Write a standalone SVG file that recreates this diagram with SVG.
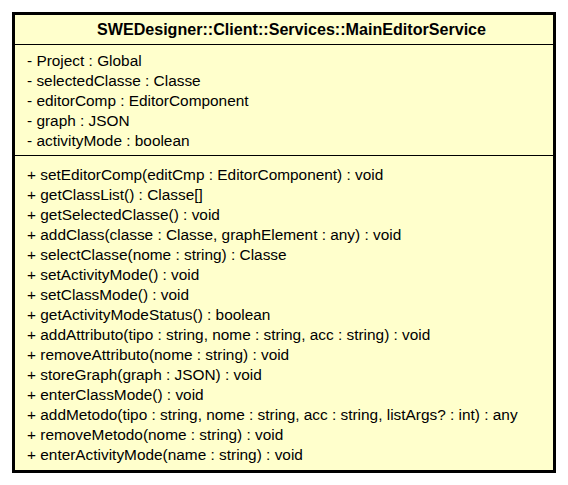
<svg xmlns="http://www.w3.org/2000/svg" width="568" height="485" viewBox="0 0 568 485">
<style>
.box{fill:#ffffcc;stroke:#000;stroke-width:3}
.sep{stroke:#000;stroke-width:1}
.t{font-family:"Liberation Sans",Arial,sans-serif;font-size:15.4px;fill:#000}
.title{font-family:"Liberation Sans",Arial,sans-serif;font-size:16.1px;font-weight:bold;fill:#000}
</style>
<rect width="568" height="485" fill="#fff"/>
<g id="MainEditorService">
<rect class="box" x="13.5" y="13.5" width="541" height="458"/>
<line class="sep" x1="15" y1="44.5" x2="553" y2="44.5"/>
<line class="sep" x1="15" y1="155.5" x2="553" y2="155.5"/>
<text class="title" x="291.5" y="35" text-anchor="middle">SWEDesigner::Client::Services::MainEditorService</text>
<text class="t" x="27" y="66">- Project : Global</text>
<text class="t" x="27" y="86">- selectedClasse : Classe</text>
<text class="t" x="27" y="106">- editorComp : EditorComponent</text>
<text class="t" x="27" y="126">- graph : JSON</text>
<text class="t" x="27" y="146">- activityMode : boolean</text>
<text class="t" x="27" y="179.5">+ setEditorComp(editCmp : EditorComponent) : void</text>
<text class="t" x="27" y="199.5">+ getClassList() : Classe[]</text>
<text class="t" x="27" y="219.5">+ getSelectedClasse() : void</text>
<text class="t" x="27" y="239.5">+ addClass(classe : Classe, graphElement : any) : void</text>
<text class="t" x="27" y="259.5">+ selectClasse(nome : string) : Classe</text>
<text class="t" x="27" y="279.5">+ setActivityMode() : void</text>
<text class="t" x="27" y="299.5">+ setClassMode() : void</text>
<text class="t" x="27" y="319.5">+ getActivityModeStatus() : boolean</text>
<text class="t" x="27" y="339.5">+ addAttributo(tipo : string, nome : string, acc : string) : void</text>
<text class="t" x="27" y="359.5">+ removeAttributo(nome : string) : void</text>
<text class="t" x="27" y="379.5">+ storeGraph(graph : JSON) : void</text>
<text class="t" x="27" y="399.5">+ enterClassMode() : void</text>
<text class="t" x="27" y="419.5">+ addMetodo(tipo : string, nome : string, acc : string, listArgs? : int) : any</text>
<text class="t" x="27" y="439.5">+ removeMetodo(nome : string) : void</text>
<text class="t" x="27" y="459.5">+ enterActivityMode(name : string) : void</text>
</g>
<g id="connectors"/>
</svg>
